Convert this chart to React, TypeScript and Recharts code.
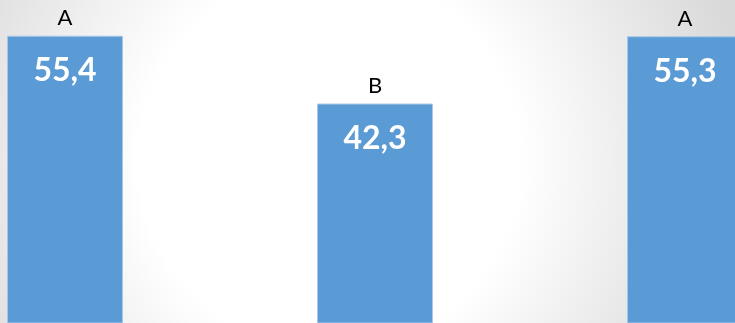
import { BarChart, Bar, XAxis, YAxis, LabelList } from 'recharts';

const groups = ['A', 'B', 'A'];
const values = [55.4, 42.3, 55.3];
const valueLabels = ['55,4', '42,3', '55,3'];

const data = groups.map((g, i) => ({ key: `${g}${i}`, group: g, value: values[i], text: valueLabels[i] }));

const GroupLabel = (props: any) => {
  const { x, y, width, index } = props;
  return (
    <text
      x={x + width / 2}
      y={y - 11}
      textAnchor="middle"
      fontFamily="Lato, sans-serif"
      fontSize={22}
      fill="#000"
    >
      {groups[index]}
    </text>
  );
};

const ValueLabel = (props: any) => {
  const { x, y, width, index } = props;
  return (
    <text
      x={x + width / 2}
      y={y + 45}
      textAnchor="middle"
      fontFamily="Lato, sans-serif"
      fontWeight="bold"
      fontSize={32}
      fill="#fff"
    >
      {valueLabels[index]}
    </text>
  );
};

export default function App() {
  return (
    <div
      style={{
        position: 'fixed',
        top: 0,
        left: 0,
        width: 735,
        height: 323,
        overflow: 'hidden',
        background: 'radial-gradient(circle at 330px 160px, #ffffff 190px, #d9d9d9 420px)',
      }}
    >
      <div style={{ position: 'absolute', left: -90, top: 0 }}>
        <BarChart
          width={930}
          height={323}
          data={data}
          margin={{ top: 0, right: 0, bottom: 0, left: 0 }}
          barCategoryGap={97.5}
        >
          <XAxis dataKey="key" hide />
          <YAxis hide domain={[0, 62.4]} />
          <Bar dataKey="value" fill="#5b9bd5" stroke="#a8c7e8" strokeWidth={1} isAnimationActive={false}>
            <LabelList dataKey="group" content={GroupLabel} />
            <LabelList dataKey="text" content={ValueLabel} />
          </Bar>
        </BarChart>
      </div>
    </div>
  );
}
